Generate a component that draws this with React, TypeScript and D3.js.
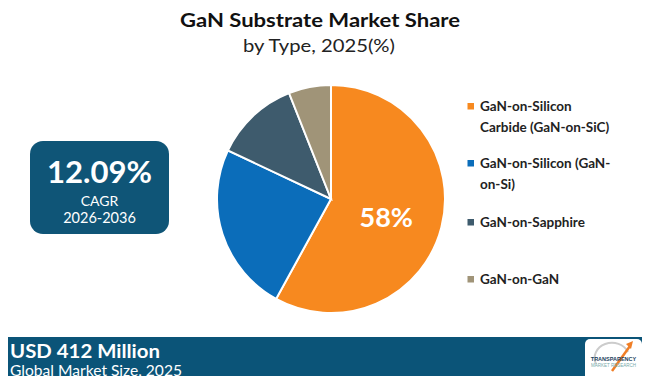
import React from "react";
import * as d3 from "d3";

const categories = [
  "GaN-on-Silicon Carbide (GaN-on-SiC)",
  "GaN-on-Silicon (GaN-on-Si)",
  "GaN-on-Sapphire",
  "GaN-on-GaN",
];
const shares = [58, 24, 12, 6];
const colors = ["#F7891F", "#0B6DBA", "#3E5B6D", "#A09478"];
const legendLines = [
  ["GaN-on-Silicon", "Carbide (GaN-on-SiC)"],
  ["GaN-on-Silicon (GaN-", "on-Si)"],
  ["GaN-on-Sapphire"],
  ["GaN-on-GaN"],
];
const legendY = [111, 168, 227, 284];

const FONT = "'Century Gothic', Lato, 'Open Sans', sans-serif";

export default function App() {
  const W = 650, H = 384;
  const cx = 331, cy = 199, r = 114;
  const data = categories.map((c, i) => ({ c, v: shares[i], color: colors[i] }));
  const pie = d3.pie<any>().value((d) => d.v).sort(null);
  const arcs = pie(data);
  const arc = d3.arc<any>().innerRadius(0).outerRadius(r);
  const labelArc = d3.arc<any>().innerRadius(r * 0.5).outerRadius(r * 0.5);

  return (
    <div style={{ margin: -8 }}>
      <svg width={W} height={H} style={{ display: "block", background: "#fff" }} fontFamily={FONT}>
        <rect width={W} height={H} fill="#fff" />
        <text x={320} y={27} textAnchor="middle" fontSize={19.5} fontWeight={700} fill="#111"
          textLength={280} lengthAdjust="spacingAndGlyphs">
          GaN Substrate Market Share
        </text>
        <text x={319} y={52} textAnchor="middle" fontSize={17.5} fill="#222"
          textLength={152} lengthAdjust="spacingAndGlyphs">
          by Type, 2025(%)
        </text>

        <g transform={`translate(${cx},${cy})`}>
          {arcs.map((a, i) => (
            <path key={i} d={arc(a) as string} fill={a.data.color} stroke="#fff" strokeWidth={2} />
          ))}
          {arcs.slice(0, 1).map((a, i) => {
            const [x, y] = labelArc.centroid(a);
            return (
              <text key={i} x={x} y={y + 14} textAnchor="middle" fontSize={27} fontWeight={700} fill="#fff">
                {a.data.v}%
              </text>
            );
          })}
        </g>

        <rect x={30} y={141} width={139} height={93} rx={13} fill="#0F5577" />
        <text x={99.5} y={183} textAnchor="middle" fontSize={31} fontWeight={700} fill="#fff"
          textLength={105} lengthAdjust="spacingAndGlyphs">
          12.09%
        </text>
        <text x={99.5} y={206} textAnchor="middle" fontSize={14} fill="#fff">
          CAGR
        </text>
        <text x={99.5} y={223} textAnchor="middle" fontSize={14.5} fill="#fff">
          2026-2036
        </text>

        {categories.map((c, i) => (
          <g key={c}>
            <rect x={467.5} y={legendY[i] - 8} width={6.5} height={6.5} fill={colors[i]} />
            {legendLines[i].map((ln, j) => (
              <text key={j} x={480} y={legendY[i] + j * 21} fontSize={13.5} fontWeight={700} fill="#222">
                {ln}
              </text>
            ))}
          </g>
        ))}

        <rect x={0} y={337} width={W} height={47} fill="#0B5478" />
        <text x={10} y={357.5} fontSize={18.5} fontWeight={700} fill="#fff"
          textLength={150} lengthAdjust="spacingAndGlyphs">
          USD 412 Million
        </text>
        <text x={10} y={376} fontSize={15} fill="#fff"
          textLength={172} lengthAdjust="spacingAndGlyphs">
          Global Market Size, 2025
        </text>
        <g>
          <rect x={585} y={339} width={57} height={43} rx={5} fill="#fff" />
          <path d="M596,364 A16,14 0 0 1 628,352" fill="none" stroke="#ccc" strokeWidth={2} />
          <path d="M612,371 L630,346" stroke="#F07E26" strokeWidth={2.5} />
          <path d="M626,344 L633,341 L631,349 Z" fill="#F07E26" />
          <text x={613.5} y={361} textAnchor="middle" fontSize={5.5} fontWeight={700} fill="#1c3f5e" fontFamily="Arial, sans-serif">
            TRANSPARENCY
          </text>
          <text x={613.5} y={367} textAnchor="middle" fontSize={4.5} fill="#7aa" fontFamily="Arial, sans-serif">
            MARKET RESEARCH
          </text>
        </g>
      </svg>
    </div>
  );
}
